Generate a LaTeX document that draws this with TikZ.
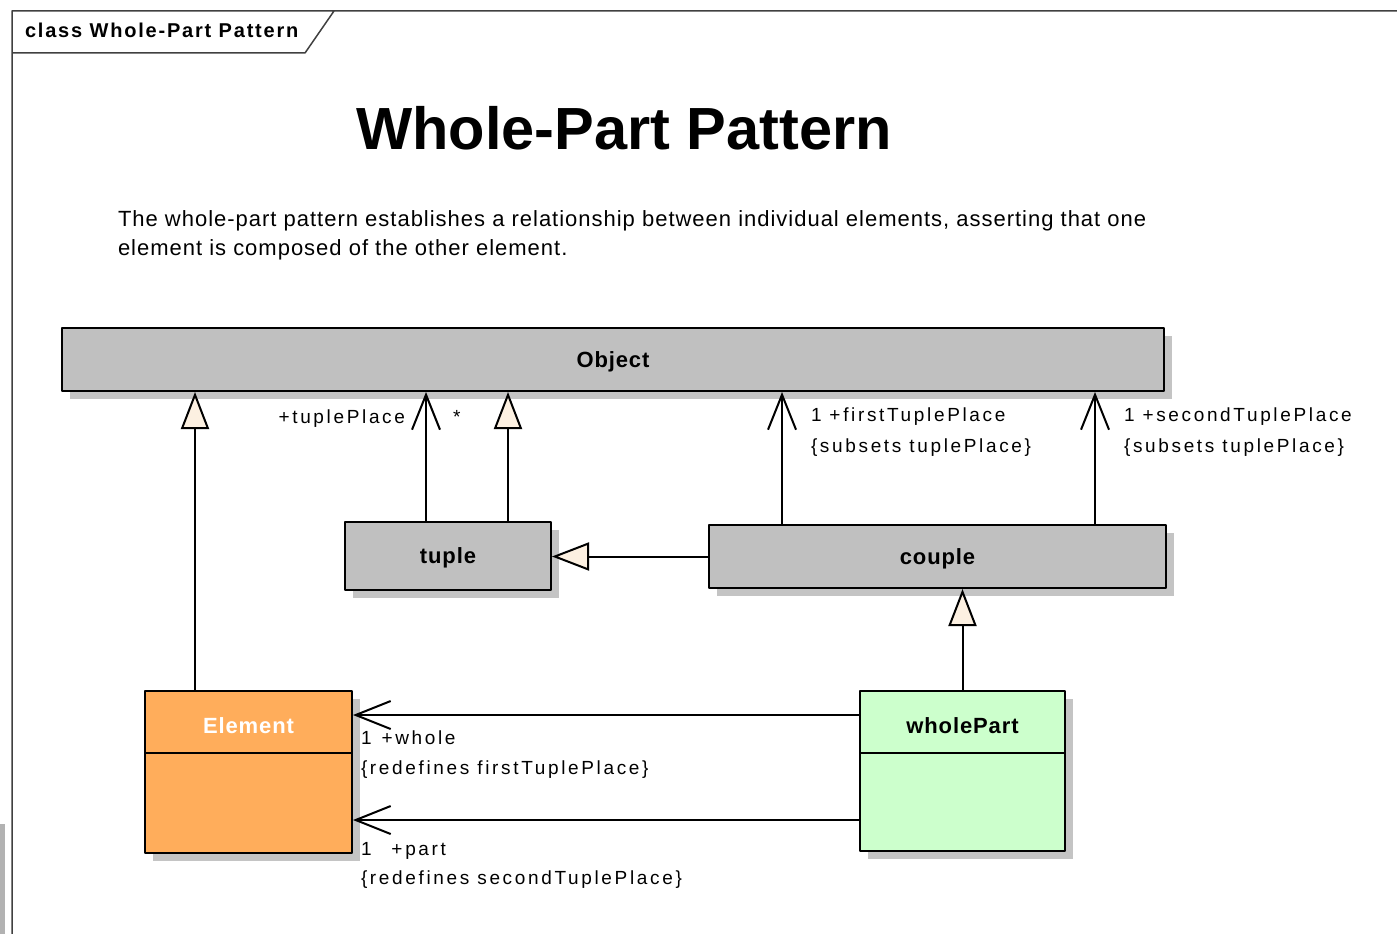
\documentclass[tikz,border=0pt]{standalone}
\usepackage{fontspec}
\setmainfont{Liberation Sans}
\newfontfamily\lblfont[LetterSpace=14]{Liberation Sans}
\newfontfamily\tabfont[LetterSpace=9]{Liberation Sans}
\newfontfamily\descfont[LetterSpace=4.5]{Liberation Sans}
\newfontfamily\namefont[LetterSpace=4]{Liberation Sans}
\usetikzlibrary{arrows.meta,shadows}
\definecolor{objgray}{HTML}{C0C0C0}
\definecolor{shade}{HTML}{C4C4C4}
\definecolor{elemorange}{HTML}{FFAD5B}
\definecolor{partgreen}{HTML}{CCFFCC}
\definecolor{tipfill}{HTML}{FCF0E1}
\definecolor{framegray}{HTML}{404040}
\tikzset{
  cls/.style = {draw, line width = 2pt, inner sep = 0pt,
    general shadow = {fill = shade, shadow xshift = 8pt, shadow yshift = -8pt}},
  clsname/.style = {font = \namefont\bfseries\fontsize{22}{26}\selectfont,
    text height = 15pt, text depth = 0pt},
  gen/.style = {-{Triangle[length = 37pt, width = 28pt, fill = tipfill]}},
  assoc/.style = {-{Straight Barb[length = 35pt, width = 28pt]}},
  lbl/.style = {anchor = base west, inner sep = 0pt,
    font = \lblfont\fontsize{19}{22}\selectfont},
}
\begin{document}
\begin{tikzpicture}[x = 1pt, y = -1pt, line join = round, line width = 2pt]
	\useasboundingbox (0,0) rectangle (1397,934);
	% frame and tab
	\fill[black!30] (0,824) rectangle (5,934);
	\draw[framegray, line width = 1.5pt]
	(1397,11) -- (12,11) -- (12,934)
	(12,53) -- (305,53) -- (334,11)
	;
	\node[anchor = base west, inner sep = 0pt, font = \tabfont\bfseries\fontsize{20}{24}\selectfont]
	(tab) at (24,38) {class Whole-Part Pattern};
	\node[anchor = base, font = \bfseries\fontsize{59.5}{64}\selectfont]
	(title) at (624,149) {Whole-Part Pattern};
	\node[anchor = base west, align = left, inner sep = 0pt, font = \descfont\fontsize{22}{29}\selectfont]
	(desc) at (117,255) {The whole-part pattern establishes a relationship between individual elements, asserting that one\\
	element is composed of the other element.};
	% classes
	\node[cls, fill = objgray, minimum width = 1102pt, minimum height = 63pt, clsname]
	(object) at (613,359.5) {Object};
	\node[cls, fill = objgray, minimum width = 206pt, minimum height = 68pt, clsname]
	(tuple) at (448,556) {tuple};
	\node[cls, fill = objgray, minimum width = 457pt, minimum height = 63pt, clsname]
	(couple) at (937.5,556.5) {couple};
	\node[cls, fill = elemorange, minimum width = 207pt, minimum height = 162pt]
	(element) at (248.5,772) {};
	\node[cls, fill = partgreen, minimum width = 205pt, minimum height = 160pt]
	(wholepart) at (962.5,771) {};
	\node[clsname, white] (elementname) at (248.5,726) {Element};
	\node[clsname] (wholepartname) at (962.5,726) {wholePart};
	\draw
	(element.west |- 0,753) -- (element.east |- 0,753)
	(wholepart.west |- 0,753) -- (wholepart.east |- 0,753)
	;
	% generalizations
	\foreach \x/\n in {195/element,508/tuple}
	\draw[gen] (\x,0 |- \n.north) -- (\x,0 |- object.south);
	\draw[gen] (couple.west) -- (couple.west -| tuple.east);
	\draw[gen] (wholepart.north) -- (wholepart.north |- couple.south);
	% associations
	\foreach \x/\n in {426/tuple,782/couple,1095/couple}
	\draw[assoc] (\x,0 |- \n.north) -- (\x,0 |- object.south);
	\foreach \y in {715,820}
	\draw[assoc] (0,\y -| wholepart.west) -- (0,\y -| element.east);
	% role names
	\node[lbl, anchor = base east] (tupleplace) at (406,423) {+tuplePlace};
	\node[lbl] (many) at (452,423) {*};
	\node[lbl] (firstplace) at (810,421) {1 +firstTuplePlace};
	\node[lbl] (firstsubsets) at (810,452) {\{subsets tuplePlace\}};
	\node[lbl] (secondplace) at (1123,421) {1 +secondTuplePlace};
	\node[lbl] (secondsubsets) at (1123,452) {\{subsets tuplePlace\}};
	\node[lbl] (whole) at (360,744) {1 \hspace{2pt}+whole};
	\node[lbl] (wholeredef) at (360,774) {\{redefines firstTuplePlace\}};
	\node[lbl] (part) at (360,855) {1 \hspace{12pt}+part};
	\node[lbl] (partredef) at (360,884) {\{redefines secondTuplePlace\}};
\end{tikzpicture}
\end{document}
